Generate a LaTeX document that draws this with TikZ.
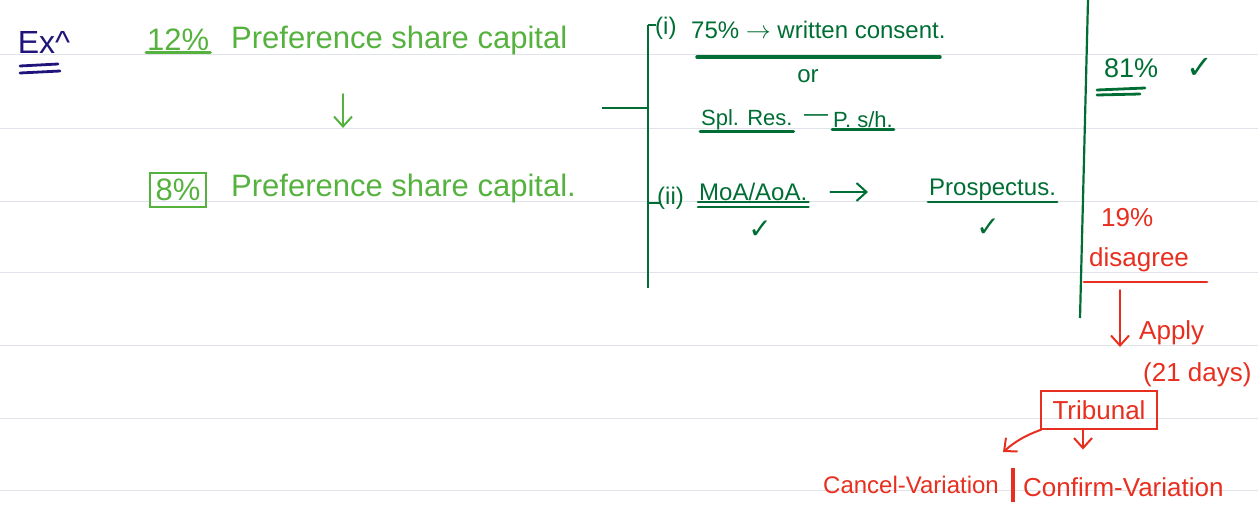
\documentclass[tikz,border=0pt]{standalone}
\usepackage{fontspec}
\setmainfont{Liberation Sans}
\newfontfamily\symfont{DejaVu Sans}
\usepackage{tikz}
\usetikzlibrary{arrows.meta,positioning,calc}
\definecolor{nlgreen}{RGB}{86,178,62}
\definecolor{nldark}{RGB}{0,110,52}
\definecolor{nlred}{RGB}{232,46,30}
\definecolor{nlnavy}{RGB}{30,20,122}
\definecolor{nlrule}{RGB}{224,228,234}

\begin{document}
\begin{tikzpicture}[x=1pt,y=-1pt,
  every node/.style={font=\fontsize{24}{28}\selectfont,inner sep=1pt},
  big/.style={font=\fontsize{31}{34}\selectfont,text=nlgreen},
  dk/.style={text=nldark},
  rd/.style={text=nlred,font=\fontsize{26}{30}\selectfont},
  ck/.style={font=\symfont\fontsize{28}{30}\selectfont},
  ul/.style={line width=2.8pt,line cap=round},
  ar/.style={-{Straight Barb[length=10pt,width=18pt]},line width=2pt,
    line cap=round}]
\useasboundingbox (0,0) rectangle (1258,509);
% ruled paper
\foreach \y in {54,128,201,272,345,418,490}
  {\draw[nlrule,line width=1pt] (0,\y) -- (1258,\y);}
% left: the green part
\node[text=nlnavy,font=\fontsize{32}{34}\selectfont] (ex) at (44,42) {Ex\string^};
\draw[nlnavy,ul] (20,66) -- (58,64); \draw[nlnavy,ul] (20,73) -- (60,71);
\node[big,anchor=west] (p12) at (146,40) {12\%};
\node[big,anchor=west] (pref1) at (230,40) {Preference share capital};
\draw[nlgreen,ul] (p12.south west) -- (p12.south east);
\node[big,draw=nlgreen,line width=2pt,inner sep=6pt] (p8) at (178,190) {8\%};
\node[big,anchor=west] (pref2) at (230,188) {Preference share capital.};
\draw[ar,nlgreen] (343,94) -- (343,128);
% bracket with the two ways
\coordinate (brT) at (648,25); \coordinate (brB) at (648,288);
\coordinate (lk) at (602,108);
\draw[nldark,line width=2.2pt] (brT) -- (brB);
\draw[nldark,line width=2.2pt] (lk) -- (lk -| brT);
\draw[nldark,line width=1.6pt] (brT) -- ++(8,0);
\node[dk,anchor=west] (i) at (654,28) {(i)};
\node[dk,anchor=west] (c75) at (690,30) {75\% $\rightarrow$ written consent.};
\draw[nldark,ul,line width=3.4pt] (697,57) -- (940,57);
\node[dk] (or) at (808,76) {or};
\node[dk,anchor=west,font=\fontsize{22}{26}\selectfont] (spl) at (700,120) {Spl. Res.};
\node[dk] (dash) at (816,118) {---};
\node[dk,anchor=west,font=\fontsize{22}{26}\selectfont] (psh) at (832,120) {P. s/h.};
\draw[nldark,ul] (spl.south west) -- (spl.south east);
\draw[nldark,ul] (psh.south west) -- (psh.south east);
\coordinate (tk2) at (648,203);
\draw[nldark,line width=1.6pt] (tk2) -- ++(12,0);
\node[dk,anchor=west] (ii) at (656,198) {(ii)};
\node[dk,anchor=west] (moa) at (698,192) {MoA/AoA.};
\draw[nldark,ul] (moa.south west) -- (moa.south east);
\draw[nldark,ul] ([yshift=-5pt]moa.south west) -- ([yshift=-5pt]moa.south east);
\node[dk,anchor=west] (pros) at (928,190) {Prospectus.};
\draw[nldark,ul] (pros.south west) -- (pros.south east);
\draw[ar,nldark,shorten <=22pt,shorten >=60pt] (moa.east) -- (pros.west |- moa.east);
\node[dk,ck] (ck1) at (760,230) {✓};
\node[dk,ck] (ck2) at (988,228) {✓};
% right column
\coordinate (vT) at (1088,0); \coordinate (vB) at (1080,318);
\draw[nldark,line width=2.2pt] (vT) -- (vB);
\node[dk,anchor=west,font=\fontsize{27}{30}\selectfont] (p81) at (1103,68) {81\%};
\node[dk,ck,font=\symfont\fontsize{32}{34}\selectfont] (ck3) at (1200,68) {✓};
\draw[nldark,ul] (1097,90) -- (1145,88); \draw[nldark,ul] (1097,95) -- (1140,94);
\node[rd,anchor=west] (p19) at (1100,218) {19\%};
\node[rd,anchor=west] (dis) at (1088,260) {disagree};
\draw[nlred,ul] (1084,282) -- (1207,282);
\draw[ar,nlred] (1120,290) -- (1120,347);
\node[rd,anchor=west] (apply) at (1138,333) {Apply};
\node[rd,anchor=west] (days) at (1142,375) {(21 days)};
\node[rd,draw=nlred,line width=2pt,inner xsep=12pt,inner ysep=9pt] (trib) at (1099,410) {Tribunal};
\node[rd,anchor=west,font=\fontsize{24}{28}\selectfont] (cancel) at (822,485) {Cancel-Variation};
\node[rd,anchor=west] (confirm) at (1022,487) {Confirm-Variation};
\coordinate (bar) at (1013,468);
\draw[nlred,line width=4.5pt] (bar) -- ++(0,34);
\draw[ar,nlred] ([xshift=2pt]trib.south west) to[bend right=10] (1003,452);
\draw[ar,nlred] ([xshift=-16pt]trib.south) -- ++(0,20);
\end{tikzpicture}
\end{document}
